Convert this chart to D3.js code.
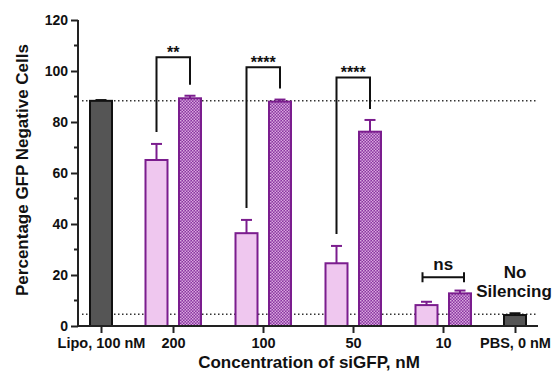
<!DOCTYPE html>
<html>
<head>
<meta charset="utf-8">
<script src="https://cdn.jsdelivr.net/npm/d3@7"></script>
<style>
  body { margin: 0; background: #fff; }
  svg { display: block; font-family: Arial, "Liberation Sans", sans-serif; }
</style>
</head>
<body>
<svg id="chart" width="553" height="373"></svg>
<script>
// categories along the x axis
var categories = ["Lipo, 100 nM", "200", "100", "50", "10", "PBS, 0 nM"];
var doseGroups = ["200", "100", "50", "10"];

// control bars (gray)
var controlCats = ["Lipo, 100 nM", "PBS, 0 nM"];
var controlValues = [88.3, 4.3];
var controlErrors = [0.3, 0.7];

// light (plain) series and dark (patterned) series
var lightValues = [65.1, 36.4, 24.6, 8.2];
var lightErrors = [6.3, 5.2, 6.8, 1.3];
var darkValues = [89.3, 88.0, 76.2, 12.8];
var darkErrors = [1.0, 0.8, 4.6, 1.1];

// dotted reference lines
var refLines = [88.3, 4.6];

// significance brackets
var sigGroups = ["200", "100", "50"];
var sigLabels = ["**", "****", "****"];
var sigHeights = [105.4, 101.5, 97.5];
var nsGroup = "10";
var nsHeight = 19.1;

var yTicks = [0, 20, 40, 60, 80, 100, 120];

var svg = d3.select("#chart");
var plotLeft = 78, plotRight = 538, plotTop = 20, plotBottom = 326;

var y = d3.scaleLinear().domain([0, 120]).range([plotBottom, plotTop]);
// category slots are not evenly spaced: outer controls sit closer
var slots = [0, 0.8, 1.8, 2.8, 3.8, 4.6];
var slotScale = d3.scaleLinear().domain([0, 4.6]).range([101, 515]);
var x = d3.scaleOrdinal(categories, slots.map(slotScale));

var barW = 22, lightOff = -16.5, darkOff = 17;
var purple = "#7b1d8e";

// checker pattern for the dark bars
var defs = svg.append("defs");
var pat = defs.append("pattern").attr("id", "checker")
    .attr("width", 3).attr("height", 3).attr("patternUnits", "userSpaceOnUse");
pat.append("rect").attr("width", 3).attr("height", 3).attr("fill", "#8a34a0");
pat.append("rect").attr("width", 1.5).attr("height", 1.5).attr("fill", "#d7a8de");
pat.append("rect").attr("x", 1.5).attr("y", 1.5).attr("width", 1.5).attr("height", 1.5).attr("fill", "#d7a8de");

// reference lines
svg.selectAll(".ref").data(refLines).enter().append("line")
    .attr("x1", 82).attr("x2", plotRight)
    .attr("y1", function (d) { return y(d); })
    .attr("y2", function (d) { return y(d); })
    .attr("stroke", "#333").attr("stroke-width", 1.5)
    .attr("stroke-dasharray", "1.5,2.5");

function errorBars(sel, values, errors, cx, color) {
    var g = sel.append("g").attr("stroke", color).attr("stroke-width", 2);
    values.forEach(function (v, i) {
        var c = cx(i);
        g.append("line").attr("x1", c).attr("x2", c)
            .attr("y1", y(v)).attr("y2", y(v + errors[i]));
        g.append("line").attr("x1", c - 5.5).attr("x2", c + 5.5)
            .attr("y1", y(v + errors[i])).attr("y2", y(v + errors[i]));
    });
}

// control bars
errorBars(svg, controlValues, controlErrors, function (i) { return x(controlCats[i]); }, "#111");
svg.selectAll(".ctrl").data(controlValues).enter().append("rect")
    .attr("x", function (d, i) { return x(controlCats[i]) - barW / 2; })
    .attr("y", function (d) { return y(d); })
    .attr("width", barW)
    .attr("height", function (d) { return y(0) - y(d); })
    .attr("fill", "#555").attr("stroke", "#111").attr("stroke-width", 2);

// light bars
errorBars(svg, lightValues, lightErrors, function (i) { return x(doseGroups[i]) + lightOff; }, purple);
svg.selectAll(".light").data(lightValues).enter().append("rect")
    .attr("x", function (d, i) { return x(doseGroups[i]) + lightOff - barW / 2; })
    .attr("y", function (d) { return y(d); })
    .attr("width", barW)
    .attr("height", function (d) { return y(0) - y(d); })
    .attr("fill", "#efc7ef").attr("stroke", purple).attr("stroke-width", 2);

// dark patterned bars
errorBars(svg, darkValues, darkErrors, function (i) { return x(doseGroups[i]) + darkOff; }, purple);
svg.selectAll(".dark").data(darkValues).enter().append("rect")
    .attr("x", function (d, i) { return x(doseGroups[i]) + darkOff - barW / 2; })
    .attr("y", function (d) { return y(d); })
    .attr("width", barW)
    .attr("height", function (d) { return y(0) - y(d); })
    .attr("fill", "url(#checker)").attr("stroke", purple).attr("stroke-width", 2);

// significance brackets
sigGroups.forEach(function (gname, k) {
    var i = doseGroups.indexOf(gname);
    var x1 = x(gname) + lightOff, x2 = x(gname) + darkOff;
    var yTop = y(sigHeights[k]);
    var yl = y(lightValues[i] + lightErrors[i]) - 12;
    var yr = y(darkValues[i] + darkErrors[i]) - 11;
    svg.append("path")
        .attr("d", "M" + x1 + "," + yl + "V" + yTop + "H" + x2 + "V" + yr)
        .attr("fill", "none").attr("stroke", "#111").attr("stroke-width", 2);
    svg.append("text").attr("x", (x1 + x2) / 2).attr("y", yTop + 1)
        .attr("text-anchor", "middle").attr("font-size", 16).attr("font-weight", "bold")
        .attr("fill", "#111").text(sigLabels[k]);
});

// ns bracket
(function () {
    var x1 = x(nsGroup) + lightOff - 4, x2 = x(nsGroup) + darkOff + 4;
    var yy = y(nsHeight);
    svg.append("path")
        .attr("d", "M" + x1 + "," + (yy - 5) + "V" + (yy + 5) + "M" + x1 + "," + yy + "H" + x2 +
              "M" + x2 + "," + (yy - 5) + "V" + (yy + 5))
        .attr("fill", "none").attr("stroke", "#111").attr("stroke-width", 2);
    svg.append("text").attr("x", (x1 + x2) / 2).attr("y", yy - 7)
        .attr("text-anchor", "middle").attr("font-size", 17).attr("font-weight", "bold")
        .attr("fill", "#111").text("ns");
})();

// "No Silencing" label over the PBS bar
var noSil = svg.append("text").attr("text-anchor", "middle")
    .attr("font-size", 17).attr("font-weight", "bold").attr("fill", "#111");
noSil.append("tspan").attr("x", x("PBS, 0 nM")).attr("y", 278).text("No");
noSil.append("tspan").attr("x", x("PBS, 0 nM") - 1).attr("y", 297).text("Silencing");

// y axis
var yAxis = svg.append("g").attr("transform", "translate(" + plotLeft + ",0)");
yAxis.selectAll(".minor").data(d3.range(10, 120, 20)).enter().append("line")
    .attr("x1", -4).attr("x2", 0)
    .attr("y1", function (d) { return y(d); }).attr("y2", function (d) { return y(d); })
    .attr("stroke", "#222").attr("stroke-width", 2);
yAxis.call(d3.axisLeft(y).tickValues(yTicks).tickSize(7).tickPadding(3));
yAxis.select(".domain").remove();
yAxis.append("line").attr("x1", 0).attr("x2", 0).attr("y1", plotTop).attr("y2", plotBottom + 1)
    .attr("stroke", "#222").attr("stroke-width", 2);
yAxis.selectAll(".tick line").attr("stroke", "#222").attr("stroke-width", 2);
yAxis.selectAll(".tick text").attr("font-size", 14).attr("font-weight", "bold")
    .attr("font-family", "Arial, 'Liberation Sans', sans-serif").attr("fill", "#111");

// x axis
var xAxis = svg.append("g").attr("transform", "translate(0," + plotBottom + ")");
xAxis.call(d3.axisBottom(x).tickSize(7).tickPadding(5));
xAxis.select(".domain").remove();
xAxis.append("line").attr("x1", plotLeft - 1).attr("x2", plotRight).attr("y1", 0).attr("y2", 0)
    .attr("stroke", "#222").attr("stroke-width", 2);
xAxis.selectAll(".tick line").attr("stroke", "#222").attr("stroke-width", 2);
xAxis.selectAll(".tick text").attr("font-size", 14.5).attr("font-weight", "bold")
    .attr("font-family", "Arial, 'Liberation Sans', sans-serif").attr("fill", "#111");

// axis titles
svg.append("text").attr("x", 309).attr("y", 368).attr("text-anchor", "middle")
    .attr("font-size", 17).attr("font-weight", "bold").attr("fill", "#111")
    .text("Concentration of siGFP, nM");
svg.append("text").attr("transform", "translate(28,170) rotate(-90)")
    .attr("text-anchor", "middle")
    .attr("font-size", 17).attr("font-weight", "bold").attr("fill", "#111")
    .text("Percentage GFP Negative Cells");
</script>
</body>
</html>
